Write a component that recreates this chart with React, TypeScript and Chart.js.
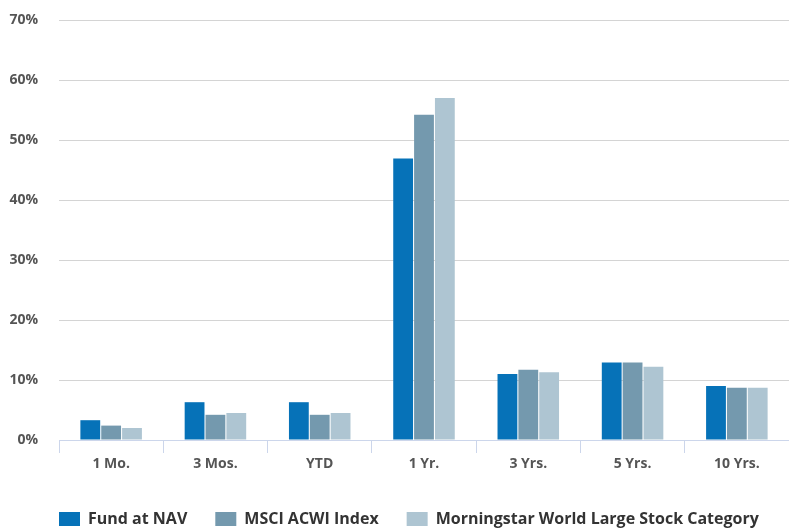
import React, { useEffect, useRef } from "react";
import { Chart, registerables } from "chart.js";

Chart.register(...registerables);

const categories = ["1 Mo.", "3 Mos.", "YTD", "1 Yr.", "3 Yrs.", "5 Yrs.", "10 Yrs."];
const fundAtNav = [3.3, 6.3, 6.3, 46.9, 11.0, 12.9, 9.0];
const msciAcwi = [2.4, 4.2, 4.2, 54.2, 11.7, 12.9, 8.7];
const morningstarCategory = [2.0, 4.5, 4.5, 57.0, 11.3, 12.2, 8.7];
const yTicks = [0, 10, 20, 30, 40, 50, 60, 70];

const FONT = "'Open Sans', sans-serif";

const legendShift = {
  id: "legendShift",
  afterLayout(chart: any) {
    const lg = chart.legend;
    if (!lg) return;
    lg.left += 31;
    lg.right += 31;
    lg.top += 8;
    lg.bottom += 8;
  },
};

export default function App() {
  const ref = useRef<HTMLCanvasElement | null>(null);
  useEffect(() => {
    document.body.style.margin = "0";
    if (!ref.current) return;
    const chart = new Chart(ref.current, {
      type: "bar",
      data: {
        labels: categories,
        datasets: [
          { label: "Fund at NAV", data: fundAtNav, backgroundColor: "#0672b8" },
          { label: "MSCI ACWI Index", data: msciAcwi, backgroundColor: "#7499ae" },
          { label: "Morningstar World Large Stock Category", data: morningstarCategory, backgroundColor: "#aec5d2" },
        ],
      },
      options: {
        responsive: false,
        animation: false,
        layout: { padding: { top: 20, left: 0, right: 0, bottom: 0 } },
        datasets: { bar: { categoryPercentage: 0.6, barPercentage: 0.95 } },
        plugins: {
          tooltip: { enabled: false },
          legend: {
            position: "bottom",
            align: "start",
            labels: {
              boxWidth: 21,
              boxHeight: 14,
              padding: 28,
              color: "#333333",
              font: { family: FONT, size: 16, weight: "bold" },
            },
          },
        },
        scales: {
          x: {
            grid: { drawOnChartArea: false, drawTicks: true, tickLength: 13, color: "#ccd6eb", offset: true },
            border: { color: "#ccd6eb", width: 1 },
            ticks: { color: "#555555", padding: 3, font: { family: FONT, size: 14, weight: "bold" } },
            afterFit: (s: any) => { s.height = 35; },
          },
          y: {
            min: 0,
            max: 70,
            afterBuildTicks: (s: any) => { s.ticks = yTicks.map((v) => ({ value: v })); },
            grid: { color: "#d4d4d4", drawTicks: false, lineWidth: 1 },
            border: { display: false },
            ticks: {
              color: "#555555",
              padding: 21,
              font: { family: FONT, size: 14, weight: "bold" },
              callback: (v: any) => v + "%",
            },
            afterFit: (s: any) => {
              s.width = 59;
              s.paddingTop = 0;
              s.paddingBottom = 0;
            },
          },
        },
      },
      plugins: [legendShift],
    });
    return () => chart.destroy();
  }, []);
  return (
    <div style={{ width: 789, height: 529 }}>
      <canvas ref={ref} width={789} height={529} style={{ display: "block" }} />
    </div>
  );
}
